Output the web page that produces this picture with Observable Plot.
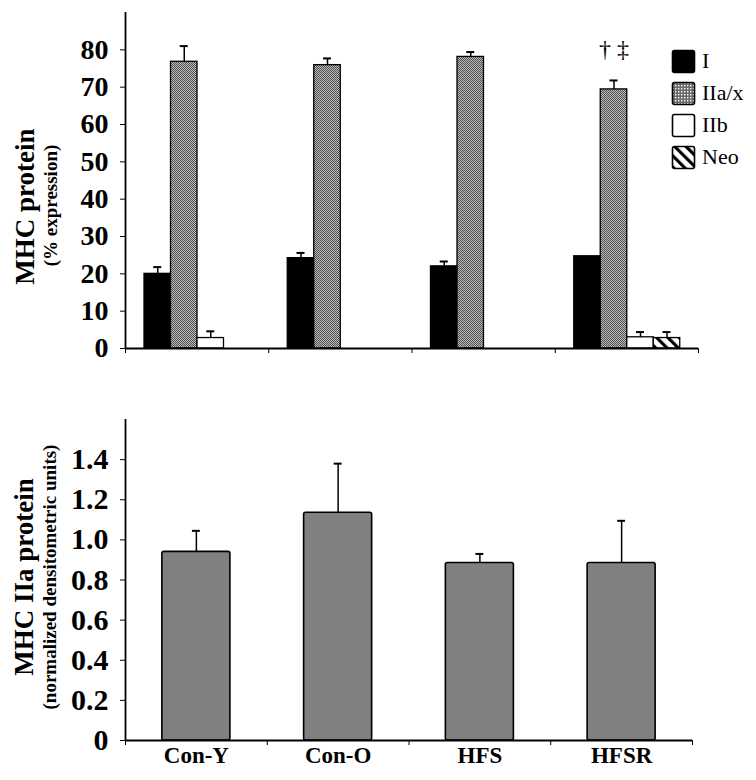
<!DOCTYPE html>
<html><head><meta charset="utf-8">
<script src="https://cdn.jsdelivr.net/npm/d3@7"></script>
<script src="https://cdn.jsdelivr.net/npm/@observablehq/plot@0.6"></script>
<style>
body{margin:0;background:#fff;color:#000;}
#wrap{position:relative;width:756px;height:780px;overflow:hidden;}
#top{position:absolute;left:0;top:0}
#bottom{position:absolute;left:0;top:365px}
#legend{position:absolute;left:671px;top:45px;font-family:"Liberation Serif",serif;font-size:22px;color:#000}
.row{display:flex;align-items:center;height:32px}
.row svg{margin-right:6px}
</style></head><body>
<svg width="0" height="0" style="position:absolute">
  <defs>
    <pattern id="dots" width="2" height="2" patternUnits="userSpaceOnUse">
      <rect width="2" height="2" fill="#bcbcbc"/>
      <rect x="0" y="0" width="1" height="1" fill="#505050"/>
      <rect x="1" y="1" width="1" height="1" fill="#505050"/>
    </pattern>
    <pattern id="dotsLegend" width="3" height="3" patternUnits="userSpaceOnUse">
      <rect width="3" height="3" fill="#6a6a6a"/>
      <rect x="1" y="1" width="1.4" height="1.4" fill="#fff"/>
    </pattern>
    <pattern id="stripes" width="8" height="8" patternUnits="userSpaceOnUse" patternTransform="rotate(-45)">
      <rect width="8" height="8" fill="#fff"/>
      <rect x="0" y="0" width="3.2" height="8" fill="#000"/>
    </pattern>
  </defs>
</svg>
<div id="wrap"><div id="top"></div><div id="bottom"></div><div id="legend"></div></div>
<script>
// ---- data ----
const groups = ["Con-Y", "Con-O", "HFS", "HFSR"];
const series = ["I", "IIa/x", "IIb", "Neo"];
const seriesFills = ["#000", "url(#dots)", "#fff", "url(#stripes)"];
const legendFills = ["#000", "url(#dotsLegend)", "#fff", "url(#stripes)"];

const meanI    = [20.0, 24.2, 22.0, 24.7];
const errI     = [1.8, 1.4, 1.3, 0];
const meanIIax = [76.8, 75.9, 78.1, 69.4];
const errIIax  = [4.2, 1.8, 1.3, 2.4];
const meanIIb  = [2.8, 0, 0, 3.0];
const errIIb   = [1.8, 0, 0, 1.4];
const meanNeo  = [0, 0, 0, 2.8];
const errNeo   = [0, 0, 0, 1.6];

const iiaMean = [0.94, 1.135, 0.885, 0.885];
const iiaErr  = [0.105, 0.245, 0.045, 0.21];

const topTicks = [0, 10, 20, 30, 40, 50, 60, 70, 80];
const bottomTicks = [0, 0.2, 0.4, 0.6, 0.8, 1.0, 1.2, 1.4];
const topTitle = "MHC protein";
const topSubtitle = "(% expression)";
const bottomTitle = "MHC IIa protein";
const bottomSubtitle = "(normalized densitometric units)";
const annotationText = "† ‡";
const annotationGroup = "HFSR";
const annotationSeries = "IIa/x";

// ---- build tables ----
const means = [meanI, meanIIax, meanIIb, meanNeo];
const errs = [errI, errIIax, errIIb, errNeo];
const topData = series.flatMap((s, si) => groups.map((g, gi) => ({
  group: g, gi, series: s, si, mean: means[si][gi], err: errs[si][gi]
}))).filter(d => d.mean > 0);

const off = 0.1326, bw = 0.185, cap = 0.028;
const cx = d => d.gi + off + (d.si + 0.5) * bw;

const topErr = topData.filter(d => d.err > 0);
const annot = topData.filter(d => d.group === annotationGroup && d.series === annotationSeries);

const serif = "Liberation Serif";

const topPlot = Plot.plot({
  width: 756, height: 365,
  marginLeft: 125, marginRight: 58, marginTop: 12, marginBottom: 17,
  style: `font-family: '${serif}', serif; font-weight: bold; font-size: 28px; color: black; background: white; overflow: visible;`,
  x: {domain: [0, groups.length], ticks: d3.range(groups.length + 1), tickFormat: () => "", tickSize: 5, label: null},
  y: {domain: [0, 90], ticks: topTicks, tickSize: 5, tickPadding: 12, label: null},
  color: {domain: series, range: seriesFills},
  marks: [
    Plot.rect(topData, {
      x1: d => d.gi + off + d.si * bw, x2: d => d.gi + off + (d.si + 1) * bw,
      y1: 0, y2: "mean", fill: "series", stroke: "black", strokeWidth: 1.3
    }),
    Plot.ruleX(topErr, {x: cx, y1: "mean", y2: d => d.mean + d.err, stroke: "black", strokeWidth: 1.5}),
    Plot.ruleY(topErr, {x1: d => cx(d) - cap, x2: d => cx(d) + cap, y: d => d.mean + d.err, stroke: "black", strokeWidth: 2}),
    Plot.ruleX([0], {stroke: "black", strokeWidth: 1.8}),
    Plot.ruleY([0], {stroke: "black", strokeWidth: 1.8}),
    Plot.text(annot, {x: cx, y: d => d.mean + d.err, text: () => annotationText, dy: -31, fontSize: 24, fontWeight: "normal", fill: "black"}),
    Plot.text([topTitle], {text: d => d, frameAnchor: "left", textAnchor: "middle", rotate: -90, dx: -100, dy: 26, fontSize: 27, fontWeight: "bold"}),
    Plot.text([topSubtitle], {text: d => d, frameAnchor: "left", textAnchor: "middle", rotate: -90, dx: -75, dy: 25, fontSize: 19, fontWeight: "bold"})
  ]
});
document.getElementById("top").appendChild(topPlot);

const bottomData = groups.map((g, gi) => ({group: g, gi, mean: iiaMean[gi], err: iiaErr[gi]}));
const bcap = 0.028;

const bottomPlot = Plot.plot({
  width: 756, height: 415,
  marginLeft: 125, marginRight: 64, marginTop: 54, marginBottom: 40,
  style: `font-family: '${serif}', serif; font-weight: bold; font-size: 30px; color: black; background: white; overflow: visible;`,
  x: {domain: [0, groups.length], ticks: d3.range(groups.length + 1), tickFormat: () => "", tickSize: 5, label: null},
  y: {domain: [0, 1.6], ticks: bottomTicks, tickFormat: d => d === 0 ? "0" : d.toFixed(1), tickSize: 5, tickPadding: 12, label: null},
  marks: [
    Plot.rect(bottomData, {x1: d => d.gi + 0.26, x2: d => d.gi + 0.74, y1: 0, y2: "mean", fill: "#808080", stroke: "black", strokeWidth: 1.6, rx: 2}),
    Plot.ruleX(bottomData, {x: d => d.gi + 0.5, y1: "mean", y2: d => d.mean + d.err, stroke: "black", strokeWidth: 1.5}),
    Plot.ruleY(bottomData, {x1: d => d.gi + 0.5 - bcap, x2: d => d.gi + 0.5 + bcap, y: d => d.mean + d.err, stroke: "black", strokeWidth: 2}),
    Plot.ruleX([0], {stroke: "black", strokeWidth: 1.8}),
    Plot.ruleY([0], {stroke: "black", strokeWidth: 1.8}),
    Plot.text(groups, {text: d => d, x: (d, i) => i + 0.5, frameAnchor: "bottom", dy: 22, fontSize: 23, fontWeight: "bold"}),
    Plot.text([bottomTitle], {text: d => d, frameAnchor: "left", textAnchor: "middle", rotate: -90, dx: -101, dy: -3, fontSize: 27, fontWeight: "bold"}),
    Plot.text([bottomSubtitle], {text: d => d, frameAnchor: "left", textAnchor: "middle", rotate: -90, dx: -76, dy: -3, fontSize: 19, fontWeight: "bold"})
  ]
});
document.getElementById("bottom").appendChild(bottomPlot);

// ---- legend ----
const legend = document.getElementById("legend");
series.forEach((s, i) => {
  const row = document.createElement("div");
  row.className = "row";
  row.innerHTML = `<svg width="25" height="25"><rect x="1.5" y="1.5" width="22" height="22" rx="2" fill="${legendFills[i]}" stroke="#000" stroke-width="1.6"/></svg><span>${s}</span>`;
  legend.appendChild(row);
});
</script>
</body></html>
